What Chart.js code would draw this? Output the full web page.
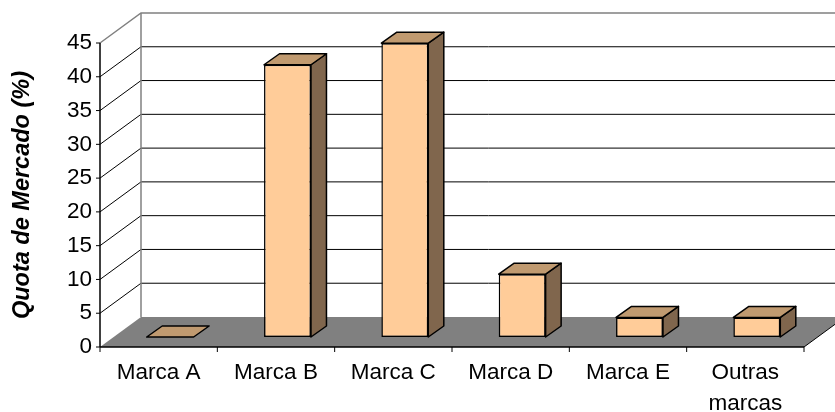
<!DOCTYPE html>
<html>
<head>
<meta charset="utf-8">
<script src="https://cdn.jsdelivr.net/npm/chart.js@4.4.1/dist/chart.umd.min.js"></script>
<style>
  html, body { margin: 0; padding: 0; background: #fff; }
  #wrap { width: 835px; height: 412px; }
</style>
</head>
<body>
<div id="wrap"><canvas id="quotaChart"></canvas></div>
<script>
// Dados
const marcas = ['Marca A', 'Marca B', 'Marca C', 'Marca D', 'Marca E', ['Outras', 'marcas']];
const quotas = [0, 40.3, 43.5, 9.3, 2.9, 2.9];
const yMin = 0, yMax = 45, yStep = 5;

// Geometria 3D (profundidade da parede e das barras)
const WALL_DX = 41, WALL_DY = 30;
const BAR_SHIFT_X = 11.5, BAR_SHIFT_Y = 10;
const BAR_DX = 15.5, BAR_DY = 11;

const corFrente = '#FFCC99';
const corTopo = '#C09A70';
const corLado = '#80664D';
const corChao = '#808080';
const corParede = '#808080';

function linha(ctx, pts, cor, w) {
    ctx.beginPath();
    ctx.moveTo(pts[0][0], pts[0][1]);
    for (let i = 1; i < pts.length; i++) ctx.lineTo(pts[i][0], pts[i][1]);
    ctx.strokeStyle = cor;
    ctx.lineWidth = w;
    ctx.stroke();
}

function poligono(ctx, pts, fill, stroke, w) {
    ctx.beginPath();
    ctx.moveTo(pts[0][0], pts[0][1]);
    for (let i = 1; i < pts.length; i++) ctx.lineTo(pts[i][0], pts[i][1]);
    ctx.closePath();
    ctx.fillStyle = fill;
    ctx.fill();
    if (stroke) {
        ctx.strokeStyle = stroke;
        ctx.lineWidth = w;
        ctx.lineJoin = 'round';
        ctx.stroke();
    }
}

const efeito3D = {
    id: 'efeito3D',
    beforeDatasetsDraw(chart) {
        const ctx = chart.ctx;
        const xs = chart.scales.x, ys = chart.scales.y;
        const L = xs.left, R = xs.right;
        const B = ys.getPixelForValue(yMin), T = ys.getPixelForValue(yMax);
        const W = chart.width;

        ctx.save();
        // parede do fundo e lateral
        poligono(ctx, [[L + WALL_DX, T - WALL_DY], [W + 5, T - WALL_DY], [W + 5, B - WALL_DY], [L + WALL_DX, B - WALL_DY]], '#fff');
        poligono(ctx, [[L, T], [L + WALL_DX, T - WALL_DY], [L + WALL_DX, B - WALL_DY], [L, B]], '#fff');

        // linhas de grade
        for (let v = yMin + yStep; v < yMax; v += yStep) {
            const py = ys.getPixelForValue(v);
            linha(ctx, [[L, py], [L + WALL_DX, py - WALL_DY], [W + 5, py - WALL_DY]], '#000', 1);
        }
        // bordas das paredes
        linha(ctx, [[L, T], [L + WALL_DX, T - WALL_DY], [W + 5, T - WALL_DY]], corParede, 1.5);
        linha(ctx, [[L + WALL_DX, T - WALL_DY], [L + WALL_DX, B - WALL_DY]], corParede, 1.5);

        // chão
        poligono(ctx, [[L, B], [L + WALL_DX, B - WALL_DY], [R + WALL_DX, B - WALL_DY], [R, B]], corChao);
        linha(ctx, [[R, B], [R + WALL_DX, B - WALL_DY]], '#000', 1);

        // eixos
        linha(ctx, [[L, T], [L, B]], '#000', 1.5);
        linha(ctx, [[L, B], [R, B]], '#000', 1.5);
        for (let v = yMin; v <= yMax; v += yStep) {
            const py = ys.getPixelForValue(v);
            linha(ctx, [[L - 4, py], [L, py]], '#000', 1);
        }
        const n = marcas.length;
        const marcasX = [L];
        for (let i = 1; i < n; i++) marcasX.push((xs.getPixelForValue(i - 1) + xs.getPixelForValue(i)) / 2);
        marcasX.push(R);
        marcasX.forEach(px => linha(ctx, [[px, B], [px, B + 5]], '#000', 1));
        ctx.restore();

        // desloca as faces frontais das barras para dentro
        ctx.save();
        ctx.translate(BAR_SHIFT_X, -BAR_SHIFT_Y);
    },
    afterDatasetsDraw(chart) {
        const ctx = chart.ctx;
        ctx.restore();
        const meta = chart.getDatasetMeta(0);
        ctx.save();
        meta.data.forEach(bar => {
            const p = bar.getProps(['x', 'y', 'base', 'width'], true);
            const x0 = p.x - p.width / 2 + BAR_SHIFT_X;
            const x1 = p.x + p.width / 2 + BAR_SHIFT_X;
            const yt = Math.min(p.y, p.base) - BAR_SHIFT_Y;
            const yb = Math.max(p.y, p.base) - BAR_SHIFT_Y;
            // lado
            if (yb - yt > 0.5) {
                poligono(ctx, [[x1, yt], [x1 + BAR_DX, yt - BAR_DY], [x1 + BAR_DX, yb - BAR_DY], [x1, yb]], corLado, '#000', 1.5);
            }
            // topo
            poligono(ctx, [[x0, yt], [x1, yt], [x1 + BAR_DX, yt - BAR_DY], [x0 + BAR_DX, yt - BAR_DY]], corTopo, '#000', 1.5);
        });
        ctx.restore();
    }
};

const fonte = "'Liberation Sans', Arial, sans-serif";

new Chart(document.getElementById('quotaChart').getContext('2d'), {
    type: 'bar',
    data: {
        labels: marcas,
        datasets: [{
            label: 'Quota de Mercado',
            data: quotas,
            backgroundColor: corFrente,
            borderColor: '#000',
            borderWidth: 1.5,
            borderSkipped: false,
            categoryPercentage: 1,
            barPercentage: 0.4
        }]
    },
    options: {
        responsive: true,
        maintainAspectRatio: false,
        animation: false,
        layout: { padding: { top: 43, right: 31, left: 0, bottom: 0 } },
        plugins: { legend: { display: false }, tooltip: { enabled: false } },
        scales: {
            x: {
                grid: { display: false, drawTicks: false },
                border: { display: false },
                ticks: { color: '#000', padding: 11, font: { family: fonte, size: 22.5, lineHeight: 1.35 }, maxRotation: 0, autoSkip: false },
                afterFit(scale) { scale.height = 65; }
            },
            y: {
                min: yMin,
                max: yMax,
                grid: { display: false, drawTicks: false },
                border: { display: false },
                ticks: { stepSize: yStep, color: '#000', padding: 8, font: { family: fonte, size: 22.5 } },
                title: {
                    display: true,
                    text: 'Quota de Mercado (%)',
                    color: '#000',
                    padding: { top: 8, bottom: 0 },
                    font: { family: fonte, size: 23.5, weight: 'bold', style: 'italic' }
                },
                afterFit(scale) { scale.width = 100; }
            }
        }
    },
    plugins: [efeito3D]
});
</script>
</body>
</html>
